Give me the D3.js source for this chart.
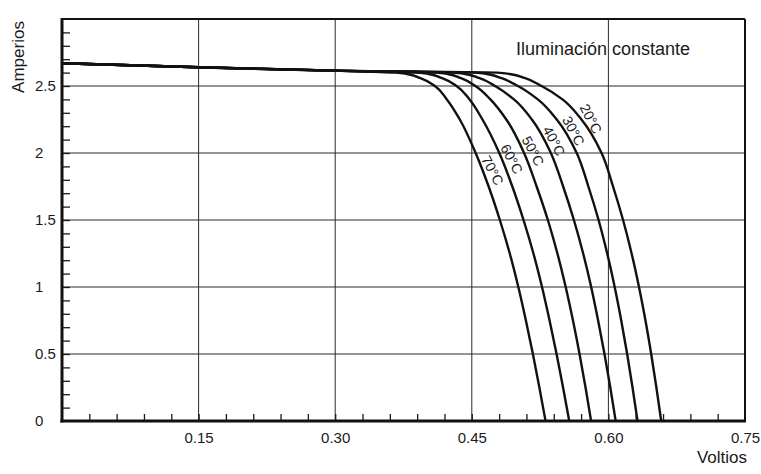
<!DOCTYPE html>
<html><head><meta charset="utf-8">
<script src="https://cdn.jsdelivr.net/npm/d3@7"></script>
<style>
body{margin:0;background:#fff}
svg{display:block}
text{font-family:"Liberation Sans",Arial,Helvetica,sans-serif;fill:#1a1a1a}
</style>
</head><body>
<svg id="c" width="761" height="474"></svg>
<script>
// ---------- data ----------
const temperatures = ["70°C", "60°C", "50°C", "40°C", "30°C", "20°C"];
// common plateau shared by all curves (volts, amperes)
const plateauV = [0, 0.15, 0.30];
const plateauI = [2.67, 2.64, 2.615];
// current levels at which each curve's knee is read
const kneeI = [2.60, 2.59, 2.56, 2.50, 2.40, 2.25, 2.00, 1.75, 1.50, 1.25, 1.00, 0.75, 0.50, 0.25, 0];
const kneeV70 = [0.3667, 0.3788, 0.3930, 0.4094, 0.4226, 0.4368, 0.4542, 0.4685, 0.4808, 0.4917, 0.5011, 0.5094, 0.5171, 0.5242, 0.5310];
const kneeV60 = [0.3905, 0.4026, 0.4168, 0.4332, 0.4475, 0.4617, 0.4802, 0.4945, 0.5068, 0.5177, 0.5271, 0.5354, 0.5431, 0.5502, 0.5570];
const kneeV50 = [0.4101, 0.4233, 0.4375, 0.4539, 0.4704, 0.4879, 0.5074, 0.5212, 0.5335, 0.5440, 0.5531, 0.5611, 0.5683, 0.5749, 0.5810];
const kneeV40 = [0.4295, 0.4426, 0.4579, 0.4755, 0.4963, 0.5160, 0.5368, 0.5503, 0.5621, 0.5723, 0.5811, 0.5887, 0.5957, 0.6021, 0.6080];
const kneeV30 = [0.4535, 0.4666, 0.4819, 0.5006, 0.5225, 0.5433, 0.5652, 0.5780, 0.5892, 0.5987, 0.6069, 0.6141, 0.6206, 0.6265, 0.6320];
const kneeV20 = [0.4784, 0.4915, 0.5079, 0.5266, 0.5496, 0.5704, 0.5925, 0.6051, 0.6161, 0.6255, 0.6336, 0.6407, 0.6470, 0.6527, 0.6580];
const kneeSeries = [kneeV70, kneeV60, kneeV50, kneeV40, kneeV30, kneeV20];
// current level at which each temperature label sits
const labelI = [1.87, 1.955, 2.015, 2.09, 2.165, 2.255];

const xTickValues = [0.15, 0.30, 0.45, 0.60, 0.75];
const xTickLabels = ["0.15", "0.30", "0.45", "0.60", "0.75"];
const yTickValues = [0, 0.5, 1, 1.5, 2, 2.5];
const yTickLabels = ["0", "0.5", "1", "1.5", "2", "2.5"];
const xGrid = [0.15, 0.30, 0.45, 0.60];
const yGrid = [0.5, 1, 1.5, 2, 2.5];
const xMinor = d3.range(1, 25).map(i => +(i * 0.03).toFixed(2));
const yMinor = d3.range(1, 30).map(i => +(i * 0.1).toFixed(1));

// ---------- drawing ----------
const svg = d3.select("#c");
const L = 62, R = 745, T = 19, B = 421;
const x = d3.scaleLinear().domain([0, 0.75]).range([L, R]);
const y = d3.scaleLinear().domain([0, 3]).range([B, T]);

svg.append("rect").attr("width", 761).attr("height", 474).attr("fill", "#fff");

// grid
svg.append("g").selectAll("line").data(xGrid).join("line")
  .attr("x1", d => x(d)).attr("x2", d => x(d)).attr("y1", T).attr("y2", B)
  .attr("stroke", "#2a2a2a").attr("stroke-width", 1);
svg.append("g").selectAll("line").data(yGrid).join("line")
  .attr("x1", L).attr("x2", R).attr("y1", d => y(d)).attr("y2", d => y(d))
  .attr("stroke", "#2a2a2a").attr("stroke-width", 1);

// minor ticks (inward)
const xMinorAxis = svg.append("g").attr("transform", `translate(0,${B})`)
  .call(d3.axisBottom(x).tickValues(xMinor).tickSize(-7).tickFormat(""));
xMinorAxis.select(".domain").remove();
xMinorAxis.selectAll("line").attr("stroke", "#1a1a1a").attr("stroke-width", 1.3);
const yMinorAxis = svg.append("g").attr("transform", `translate(${L},0)`)
  .call(d3.axisLeft(y).tickValues(yMinor).tickSize(-8).tickFormat(""));
yMinorAxis.select(".domain").remove();
yMinorAxis.selectAll("line").attr("stroke", "#1a1a1a").attr("stroke-width", 1.3);

// tick labels
const xLab = svg.append("g").attr("transform", `translate(0,${B})`)
  .call(d3.axisBottom(x).tickValues(xTickValues).tickSize(0).tickPadding(11)
    .tickFormat((d, i) => xTickLabels[i]));
xLab.select(".domain").remove();
xLab.selectAll("text").attr("font-size", 15).attr("font-family", "Liberation Sans, Arial, sans-serif").attr("fill", "#1a1a1a");
const yLab = svg.append("g").attr("transform", `translate(${L},0)`)
  .call(d3.axisLeft(y).tickValues(yTickValues).tickSize(0)
    .tickFormat((d, i) => yTickLabels[i]));
yLab.select(".domain").remove();
yLab.selectAll("text").attr("font-size", 15).attr("font-family", "Liberation Sans, Arial, sans-serif")
  .attr("fill", "#1a1a1a").attr("text-anchor", "start").attr("x", -27);

// curves (current strictly decreasing along each path -> monotone in y)
const line = d3.line().x(d => x(d[0])).y(d => y(d[1])).curve(d3.curveMonotoneY);
const curves = kneeSeries.map(vs => {
  const pts = plateauV.map((v, i) => [v, plateauI[i]]);
  vs.forEach((v, i) => pts.push([v, kneeI[i]]));
  return pts;
});
svg.append("g").selectAll("path").data(curves).join("path")
  .attr("d", line).attr("fill", "none").attr("stroke", "#111")
  .attr("stroke-width", 2.4).attr("stroke-linejoin", "round");

// temperature labels
function vAt(vs, I) {
  for (let i = 0; i < kneeI.length - 1; i++) {
    if (I <= kneeI[i] && I >= kneeI[i + 1]) {
      const t = (kneeI[i] - I) / (kneeI[i] - kneeI[i + 1]);
      return vs[i] + t * (vs[i + 1] - vs[i]);
    }
  }
  return vs[0];
}
svg.append("g").selectAll("text").data(temperatures).join("text")
  .attr("transform", (d, i) => `translate(${x(vAt(kneeSeries[i], labelI[i])) + 10},${y(labelI[i])}) rotate(62)`)
  .attr("text-anchor", "middle").attr("dy", "0.35em")
  .attr("font-size", 14).text(d => d);

// frame
svg.append("line").attr("x1", L).attr("x2", R).attr("y1", T).attr("y2", T).attr("stroke", "#111").attr("stroke-width", 2);
svg.append("line").attr("x1", R).attr("x2", R).attr("y1", T).attr("y2", B).attr("stroke", "#111").attr("stroke-width", 2);
svg.append("line").attr("x1", L).attr("x2", L).attr("y1", T - 1).attr("y2", B + 1.5).attr("stroke", "#111").attr("stroke-width", 3);
svg.append("line").attr("x1", L - 1.5).attr("x2", R + 1).attr("y1", B).attr("y2", B).attr("stroke", "#111").attr("stroke-width", 3);

// titles
svg.append("text").attr("x", 516).attr("y", 55).attr("font-size", 18).text("Iluminación constante");
svg.append("text").attr("x", 747).attr("y", 463).attr("text-anchor", "end").attr("font-size", 17).text("Voltios");
svg.append("text").attr("transform", "translate(24,57) rotate(-90)").attr("text-anchor", "middle")
  .attr("font-size", 17).text("Amperios");
</script>
</body></html>
